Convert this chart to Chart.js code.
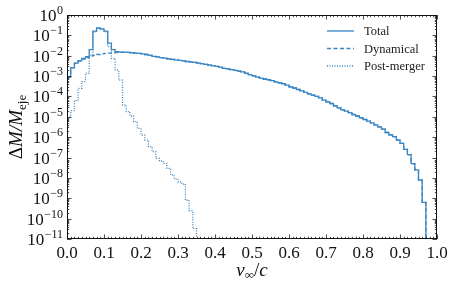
<!DOCTYPE html>
<html>
<head>
<meta charset="utf-8">
<script src="https://cdn.jsdelivr.net/npm/chart.js@4"></script>
<style>
  html, body { margin: 0; padding: 0; background: #fff; }
  canvas { display: block; }
</style>
</head>
<body>
<canvas id="velChart" width="460" height="288"></canvas>
<script>
// histogram of ejecta asymptotic velocity, bins of 0.01 c starting at 0
const BIN_WIDTH = 0.01;

const totalVals = [
  9.3e-4, 2.6e-3, 4.3e-3, 5.8e-3, 7.4e-3, 8.9e-3, 2.0e-2, 0.16, 0.23, 0.21,
  0.16, 4.2e-2, 2.0e-2, 1.6e-2, 1.5e-2, 1.5e-2, 1.45e-2, 1.4e-2, 1.35e-2, 1.3e-2,
  1.23e-2, 1.15e-2, 1.05e-2, 9.3e-3, 8.7e-3, 8.1e-3, 7.6e-3, 7.1e-3, 6.6e-3, 6.3e-3,
  5.9e-3, 5.6e-3, 5.2e-3, 5.0e-3, 4.7e-3, 4.4e-3, 4.1e-3, 3.8e-3, 3.5e-3, 3.3e-3,
  3.0e-3, 2.75e-3, 2.4e-3, 2.24e-3, 2.1e-3, 1.9e-3, 1.74e-3, 1.6e-3, 1.38e-3, 1.17e-3,
  1.02e-3, 8.9e-4, 7.9e-4, 7.2e-4, 6.6e-4, 6.0e-4, 5.2e-4, 4.7e-4, 4.2e-4, 3.6e-4,
  3.0e-4, 2.6e-4, 2.2e-4, 1.9e-4, 1.6e-4, 1.35e-4, 1.17e-4, 1.0e-4, 8.5e-5, 6.6e-5,
  5.5e-5, 4.5e-5, 3.5e-5, 2.75e-5, 2.2e-5, 1.9e-5, 1.6e-5, 1.3e-5, 1.1e-5, 8.9e-6,
  7.4e-6, 6.2e-6, 5.0e-6, 4.0e-6, 3.2e-6, 2.5e-6, 1.7e-6, 1.3e-6, 1.07e-6, 7.1e-7,
  5.0e-7, 2.5e-7, 1.4e-7, 5.0e-8, 2.5e-8, 7.9e-9, 6.3e-10
];

const dynamicalVals = [
  9.0e-4, 2.55e-3, 4.2e-3, 5.5e-3, 6.9e-3, 8.0e-3, 9.5e-3, 1.05e-2, 1.15e-2, 1.22e-2,
  1.3e-2, 1.35e-2, 1.4e-2, 1.42e-2, 1.45e-2, 1.48e-2, 1.45e-2, 1.4e-2, 1.35e-2, 1.3e-2,
  1.23e-2, 1.15e-2, 1.05e-2, 9.3e-3, 8.7e-3, 8.1e-3, 7.6e-3, 7.1e-3, 6.6e-3, 6.3e-3,
  5.9e-3, 5.6e-3, 5.2e-3, 5.0e-3, 4.7e-3, 4.4e-3, 4.1e-3, 3.8e-3, 3.5e-3, 3.3e-3,
  3.0e-3, 2.75e-3, 2.4e-3, 2.24e-3, 2.1e-3, 1.9e-3, 1.74e-3, 1.6e-3, 1.38e-3, 1.17e-3,
  1.02e-3, 8.9e-4, 7.9e-4, 7.2e-4, 6.6e-4, 6.0e-4, 5.2e-4, 4.7e-4, 4.2e-4, 3.6e-4,
  3.0e-4, 2.6e-4, 2.2e-4, 1.9e-4, 1.6e-4, 1.35e-4, 1.17e-4, 1.0e-4, 8.5e-5, 6.6e-5,
  5.5e-5, 4.5e-5, 3.5e-5, 2.75e-5, 2.2e-5, 1.9e-5, 1.6e-5, 1.3e-5, 1.1e-5, 8.9e-6,
  7.4e-6, 6.2e-6, 5.0e-6, 4.0e-6, 3.2e-6, 2.5e-6, 1.7e-6, 1.3e-6, 1.07e-6, 7.1e-7,
  5.0e-7, 2.5e-7, 1.4e-7, 5.0e-8, 2.5e-8, 7.9e-9, 6.3e-10
];

const postMergerVals = [
  1.0e-5, 2.0e-5, 6.3e-5, 2.5e-4, 5.4e-4, 1.4e-3, 1.05e-2, 0.15, 0.22, 0.2,
  0.15, 2.8e-2, 7.4e-3, 2.0e-3, 6.3e-4, 3.8e-5, 1.8e-5, 1.1e-5, 5.8e-6, 2.7e-6,
  1.26e-6, 7.2e-7, 3.4e-7, 1.95e-7, 9.1e-8, 6.8e-8, 5.2e-8, 2.95e-8, 1.4e-8, 8.9e-9,
  6.3e-9, 5.0e-9, 8.0e-10, 2.5e-10, 3.2e-11
];

const xTickLabels = ['0.0', '0.1', '0.2', '0.3', '0.4', '0.5', '0.6', '0.7', '0.8', '0.9', '1.0'];
const yTickExps = [0, -1, -2, -3, -4, -5, -6, -7, -8, -9, -10, -11];
const seriesNames = ['Total', 'Dynamical', 'Post-merger'];

const BLUE = '#3a86c4';
const SERIF = "'Liberation Serif', 'DejaVu Serif', serif";
const FLOOR = 1e-14; // below the axis, so the last bin drops off the plot

// step points at the left bin edges, plus the closing edge
function toSteps(vals) {
  const pts = vals.map((v, i) => ({ x: +(i * BIN_WIDTH).toFixed(2), y: v }));
  pts.push({ x: +(vals.length * BIN_WIDTH).toFixed(2), y: FLOOR });
  return pts;
}

const supDigits = { '0': '0' };

const decorations = {
    id: 'decorations',
    afterDraw(chart) {
        const { ctx, chartArea: a, scales: { x, y } } = chart;
        ctx.save();

        // ticks pointing inward on all four sides
        ctx.strokeStyle = '#222';
        ctx.lineWidth = 0.8;
        ctx.beginPath();
        for (let i = 0; i <= 100; i++) {
            const px = Math.round(x.getPixelForValue(i / 100)) + 0.5;
            const len = i % 10 === 0 ? 4.5 : 2.2;
            ctx.moveTo(px, a.bottom); ctx.lineTo(px, a.bottom - len);
            ctx.moveTo(px, a.top); ctx.lineTo(px, a.top + len);
        }
        for (let e = -11; e <= 0; e++) {
            const py = Math.round(y.getPixelForValue(Math.pow(10, e))) + 0.5;
            ctx.moveTo(a.left, py); ctx.lineTo(a.left + 4.5, py);
            ctx.moveTo(a.right, py); ctx.lineTo(a.right - 4.5, py);
            if (e < 0) {
                for (let m = 2; m <= 9; m++) {
                    const pm = Math.round(y.getPixelForValue(m * Math.pow(10, e))) + 0.5;
                    ctx.moveTo(a.left, pm); ctx.lineTo(a.left + 2.2, pm);
                    ctx.moveTo(a.right, pm); ctx.lineTo(a.right - 2.2, pm);
                }
            }
        }
        ctx.stroke();

        // frame
        ctx.strokeStyle = '#111';
        ctx.lineWidth = 1;
        ctx.strokeRect(a.left + 0.5, a.top + 0.5, a.right - a.left - 1, a.bottom - a.top - 1);

        // x tick labels
        ctx.fillStyle = '#111';
        ctx.font = '17px ' + SERIF;
        ctx.textAlign = 'center';
        ctx.textBaseline = 'alphabetic';
        xTickLabels.forEach(lbl => {
            ctx.fillText(lbl, x.getPixelForValue(parseFloat(lbl)), a.bottom + 19);
        });

        // y tick labels as 10 with a raised exponent
        const labelRight = a.left - 4;
        yTickExps.forEach(e => {
            const py = y.getPixelForValue(Math.pow(10, e));
            const exp = e === 0 ? '0' : '\u2212' + String(-e);
            ctx.font = '12px ' + SERIF;
            const ew = ctx.measureText(exp).width;
            ctx.textAlign = 'left';
            ctx.fillText(exp, labelRight - ew, py - 1);
            ctx.font = '17px ' + SERIF;
            ctx.textAlign = 'right';
            ctx.fillText('10', labelRight - ew - 0.5, py + 6);
        });

        // x axis title: v_inf / c
        ctx.textAlign = 'left';
        const xParts = [
            { t: 'v', f: 'italic 19px ' + SERIF, dy: 0 },
            { t: '\u221E', f: '13px ' + SERIF, dy: 3 },
            { t: '/', f: '19px ' + SERIF, dy: 0 },
            { t: 'c', f: 'italic 19px ' + SERIF, dy: 0 }
        ];
        drawParts(ctx, xParts, (a.left + a.right) / 2, 276);

        // y axis title: Delta M / M_eje, rotated
        ctx.save();
        ctx.translate(22, (a.top + a.bottom) / 2);
        ctx.rotate(-Math.PI / 2);
        const yParts = [
            { t: '\u0394', f: '19px ' + SERIF, dy: 0 },
            { t: 'M/M', f: 'italic 19px ' + SERIF, dy: 0 },
            { t: 'eje', f: '13px ' + SERIF, dy: 4 }
        ];
        drawParts(ctx, yParts, 0, 0);
        ctx.restore();

        // legend, upper right inside the axes
        const lx0 = 327, lx1 = 354, tx = 364;
        const rows = [31, 48.5, 66];
        const dashes = [[], [4, 2.5], [1, 1.5]];
        ctx.font = '12.5px ' + SERIF;
        ctx.textBaseline = 'middle';
        seriesNames.forEach((name, i) => {
            ctx.strokeStyle = BLUE;
            ctx.lineWidth = 1.3;
            ctx.setLineDash(dashes[i]);
            ctx.beginPath();
            ctx.moveTo(lx0, rows[i]); ctx.lineTo(lx1, rows[i]);
            ctx.stroke();
            ctx.setLineDash([]);
            ctx.fillStyle = '#222';
            ctx.fillText(name, tx, rows[i] + 1);
        });

        ctx.restore();
    }
};

function drawParts(ctx, parts, cx, baseY) {
    let w = 0;
    parts.forEach(p => { ctx.font = p.f; w += ctx.measureText(p.t).width; });
    let px = cx - w / 2;
    ctx.textAlign = 'left';
    ctx.textBaseline = 'alphabetic';
    parts.forEach(p => {
        ctx.font = p.f;
        ctx.fillText(p.t, px, baseY + p.dy);
        px += ctx.measureText(p.t).width;
    });
}

const ctx = document.getElementById('velChart').getContext('2d');
new Chart(ctx, {
    type: 'line',
    data: {
        datasets: [
            { label: seriesNames[0], data: toSteps(totalVals), borderDash: [] },
            { label: seriesNames[1], data: toSteps(dynamicalVals), borderDash: [4, 2.5] },
            { label: seriesNames[2], data: toSteps(postMergerVals), borderDash: [1, 1.5] }
        ].map(ds => Object.assign(ds, {
            borderColor: BLUE,
            borderWidth: 1.3,
            stepped: true,
            pointRadius: 0,
            fill: false,
            tension: 0
        }))
    },
    options: {
        responsive: false,
        animation: false,
        layout: { padding: { top: 15, right: 23, left: 0, bottom: 0 } },
        scales: {
            x: {
                type: 'linear',
                min: 0,
                max: 1,
                grid: { display: false },
                border: { display: false },
                ticks: { display: false },
                afterFit: s => { s.height = 49; }
            },
            y: {
                type: 'logarithmic',
                min: 1e-11,
                max: 1,
                grid: { display: false },
                border: { display: false },
                ticks: { display: false },
                afterFit: s => { s.width = 67; }
            }
        },
        plugins: {
            legend: { display: false },
            tooltip: { enabled: false }
        }
    },
    plugins: [decorations]
});
</script>
</body>
</html>
